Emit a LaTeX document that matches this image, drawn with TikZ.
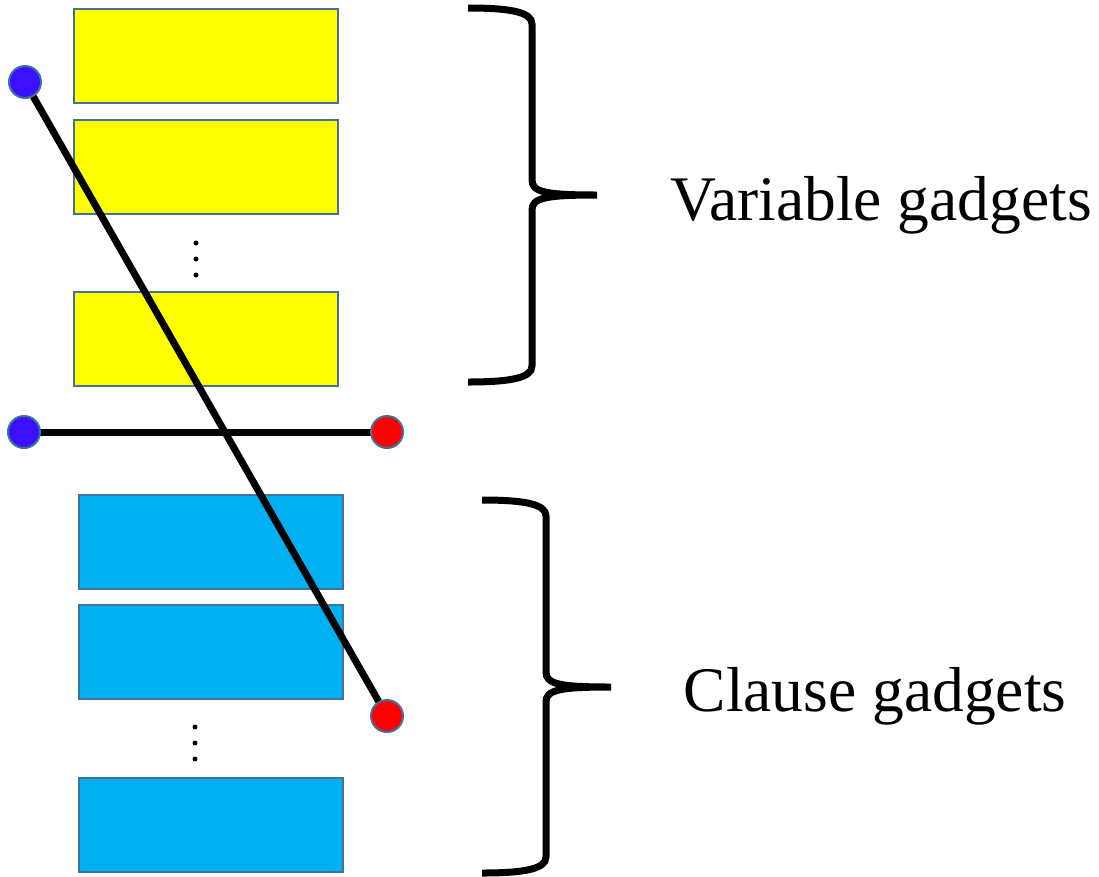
\documentclass[tikz,border=0pt]{standalone}
\usepackage{fontspec}
\setmainfont{Liberation Serif}
\pgfdeclarelayer{bg}
\pgfdeclarelayer{fg}
\pgfsetlayers{bg,main,fg}
\definecolor{gyellow}{HTML}{FFFF00}
\definecolor{gblue}{HTML}{00B0F0}
\definecolor{edgeblue}{HTML}{41719C}
\definecolor{dotblue}{HTML}{3A10FF}
\definecolor{dotred}{HTML}{FF0000}
\tikzset{
  gbox/.style={rectangle, draw=edgeblue, line width=2pt, inner sep=0pt,
    minimum width=264pt, minimum height=94pt},
  vbox/.style={gbox, fill=gyellow},
  cbox/.style={gbox, fill=gblue},
  pin/.style={circle, draw=edgeblue, line width=2pt, inner sep=0pt, minimum size=32pt},
  bluepin/.style={pin, fill=dotblue},
  redpin/.style={pin, fill=dotred},
  wire/.style={line width=7pt, black},
  brace/.style={line width=7pt, black},
  smalldot/.style={circle, fill=black, inner sep=0pt, minimum size=5pt},
  label/.style={font=\fontsize{63.5}{70}\selectfont, anchor=base}
}
\begin{document}
\begin{tikzpicture}[x=1pt,y=-1pt]
\useasboundingbox (0,0) rectangle (1099,876);
\begin{pgfonlayer}{bg}
  \node[vbox] (v1) at (206,56) {};
  \node[vbox] (v2) at (206,167) {};
  \node[smalldot] (vd1) at (196,243) {};
  \node[smalldot] (vd2) at (196,259) {};
  \node[smalldot] (vd3) at (196,275) {};
  \node[vbox] (v3) at (206,339) {};
  \node[cbox] (c1) at (211,541.5) {};
  \node[cbox] (c2) at (211,652) {};
  \node[smalldot] (cd1) at (195,727) {};
  \node[smalldot] (cd2) at (195,743) {};
  \node[smalldot] (cd3) at (195,759) {};
  \node[cbox] (c3) at (211,825) {};
\end{pgfonlayer}
\begin{pgfonlayer}{fg}
  \node[bluepin] (b1) at (25,82) {};
  \node[bluepin] (b2) at (24,432) {};
  \node[redpin] (r1) at (387,432) {};
  \node[redpin] (r2) at (387,716) {};
\end{pgfonlayer}
\draw[wire] (b1.center) -- (r2.center);
\draw[wire] (b2.center) -- (r1.center);
% braces
\coordinate (tb1) at (468,8);
\coordinate (tbtip) at (597,195);
\coordinate (tb2) at (468,382);
\draw[brace] (tb1) .. controls (510,8) and (532,12) .. (532,24) -- (532,180)
  .. controls (532,192) and (545,195) .. (tbtip)
  .. controls (545,195) and (532,198) .. (532,210) -- (532,366)
  .. controls (532,378) and (510,382) .. (tb2);
\coordinate (cb1) at (482,500);
\coordinate (cbtip) at (611,687);
\coordinate (cb2) at (482,873);
\draw[brace] (cb1) .. controls (524,500) and (546,504) .. (546,516) -- (546,672)
  .. controls (546,684) and (559,687) .. (cbtip)
  .. controls (559,687) and (546,690) .. (546,702) -- (546,857)
  .. controls (546,869) and (524,873) .. (cb2);
\node[label] (vt) at (881,220) {Variable gadgets};
\node[label] (ct) at (875,711) {Clause gadgets};
\end{tikzpicture}
\end{document}
